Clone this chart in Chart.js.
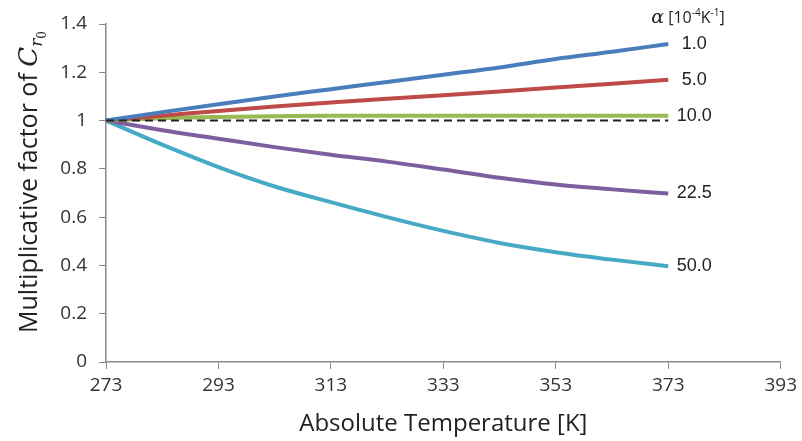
<!DOCTYPE html>
<html>
<head>
<meta charset="utf-8">
<script src="https://cdn.jsdelivr.net/npm/chart.js@4.4.1/dist/chart.umd.min.js"></script>
<style>
  html, body { margin: 0; padding: 0; background: #fff; }
  #wrap { width: 802px; height: 441px; position: relative; }
</style>
</head>
<body>
<div id="wrap"><canvas id="c"></canvas></div>
<script>
// temperatures [K]
let temps = [273, 283, 293, 303, 313, 323, 333, 343, 353, 363, 373]

// multiplicative factor for each alpha [1e-4 K^-1]
let alpha1 = [1.0, 1.035, 1.068, 1.10, 1.13, 1.16, 1.19, 1.22, 1.255, 1.285, 1.317]
let alpha5 = [1.0, 1.02, 1.04, 1.058, 1.075, 1.09, 1.105, 1.12, 1.137, 1.153, 1.169]
let alpha10 = [1.0, 1.01, 1.015, 1.018, 1.02, 1.02, 1.02, 1.02, 1.02, 1.02, 1.02]
let alpha22 = [1.0, 0.96, 0.925, 0.89, 0.858, 0.83, 0.797, 0.763, 0.735, 0.715, 0.698]
let alpha50 = [1.0, 0.90, 0.807, 0.727, 0.662, 0.60, 0.543, 0.493, 0.455, 0.424, 0.397]
let reference = [1, 1, 1, 1, 1, 1, 1, 1, 1, 1, 1]

let seriesLabels = ['1.0', '5.0', '10.0', '22.5', '50.0']
let xTicks = [273, 293, 313, 333, 353, 373, 393]
let yTicks = [0, 0.2, 0.4, 0.6, 0.8, 1, 1.2, 1.4]

function pts(vals) {
    return vals.map(function(v, i) { return {x: temps[i], y: v} })
}

function line(label, vals, color) {
    return {
        label: label,
        data: pts(vals),
        borderColor: color,
        borderWidth: 4,
        pointRadius: 0,
        cubicInterpolationMode: 'monotone',
        fill: false
    }
}

let datasets = [
    {
        label: '',
        data: pts(reference),
        borderColor: '#222',
        borderWidth: 2,
        borderDash: [8, 5],
        pointRadius: 0,
        fill: false
    },
    line(seriesLabels[0], alpha1, '#4a7ebb'),
    line(seriesLabels[1], alpha5, '#be4b48'),
    line(seriesLabels[2], alpha10, '#98b954'),
    line(seriesLabels[3], alpha22, '#7d5fa0'),
    line(seriesLabels[4], alpha50, '#46aac5')
]

const tickFont = {family: '"Open Sans", sans-serif', size: 19}

// y title with italic C and subscript r0, series labels, alpha header
const decorations = {
    id: 'decorations',
    afterDraw(chart) {
        let ctx = chart.ctx
        let area = chart.chartArea
        ctx.save()
        ctx.fillStyle = '#222'

        // y axis title
        let parts = [
            {t: 'Multiplicative factor of ', f: '25px "Open Sans"', dy: 0},
            {t: 'C', f: 'italic 26px "DejaVu Serif"', dy: 0},
            {t: 'r', f: 'italic 17px "DejaVu Serif"', dy: 5},
            {t: '0', f: '12px "DejaVu Serif"', dy: 9}
        ]
        let total = 0
        parts.forEach(function(p) { ctx.font = p.f; p.w = ctx.measureText(p.t).width; total += p.w })
        ctx.translate(37, 182)
        ctx.rotate(-Math.PI / 2)
        ctx.textBaseline = 'alphabetic'
        ctx.textAlign = 'left'
        let x = -total / 2
        parts.forEach(function(p) { ctx.font = p.f; ctx.fillText(p.t, x, p.dy); x += p.w })
        ctx.setTransform(1, 0, 0, 1, 0, 0)

        // x axis title
        ctx.font = '24px "Open Sans"'
        ctx.textAlign = 'center'
        ctx.textBaseline = 'middle'
        ctx.fillText('Absolute Temperature [K]', (area.left + area.right) / 2, 424)

        // series end labels
        ctx.font = '18px "Liberation Sans"'
        ctx.textAlign = 'center'
        chart.data.datasets.forEach(function(ds, i) {
            if (!ds.label) return
            let meta = chart.getDatasetMeta(i)
            let last = meta.data[meta.data.length - 1]
            ctx.fillText(ds.label, last.x + 26, last.y)
        })

        // alpha header
        let xs = chart.scales.x
        let ys = chart.scales.y
        let hx = xs.getPixelForValue(373) - 17
        let hy = ys.getPixelForValue(1.4) - 1
        ctx.textAlign = 'left'
        ctx.textBaseline = 'alphabetic'
        let head = [
            {t: '\u03b1', f: 'italic 19px "DejaVu Serif"', dy: 0},
            {t: ' [10', f: '16px "Open Sans"', dy: 0},
            {t: '-4', f: '10px "Open Sans"', dy: -7},
            {t: 'K', f: '16px "Open Sans"', dy: 0},
            {t: '-1', f: '10px "Open Sans"', dy: -7},
            {t: ']', f: '16px "Open Sans"', dy: 0}
        ]
        let hxp = hx
        head.forEach(function(p) {
            ctx.font = p.f
            ctx.fillText(p.t, hxp, hy + p.dy)
            hxp += ctx.measureText(p.t).width
        })
        ctx.restore()
    }
}

new Chart(document.getElementById('c'), {
    type: 'line',
    data: {datasets: datasets},
    options: {
        responsive: true,
        maintainAspectRatio: false,
        animation: false,
        layout: {padding: {top: 24, right: 21, bottom: 0, left: 0}},
        plugins: {legend: {display: false}, tooltip: {enabled: false}},
        scales: {
            x: {
                type: 'linear',
                min: 273,
                max: 393,
                afterBuildTicks: function(s) { s.ticks = xTicks.map(function(v) { return {value: v} }) },
                afterFit: function(s) { s.height = 79 },
                grid: {drawOnChartArea: false, tickLength: 7, color: '#8a8a8a'},
                border: {color: '#8a8a8a', width: 1.5},
                ticks: {font: tickFont, color: '#333', padding: 5, maxRotation: 0}
            },
            y: {
                min: 0,
                max: 1.4,
                afterBuildTicks: function(s) { s.ticks = yTicks.map(function(v) { return {value: v} }) },
                afterFit: function(s) { s.width = 106 },
                grid: {drawOnChartArea: false, tickLength: 7, color: '#8a8a8a'},
                border: {color: '#8a8a8a', width: 1.5},
                ticks: {
                    font: tickFont,
                    color: '#333',
                    padding: 12,
                    callback: function(v) { return (v === 0 || v === 1) ? String(v) : v.toFixed(1) }
                }
            }
        }
    },
    plugins: [decorations]
})
</script>
</body>
</html>
